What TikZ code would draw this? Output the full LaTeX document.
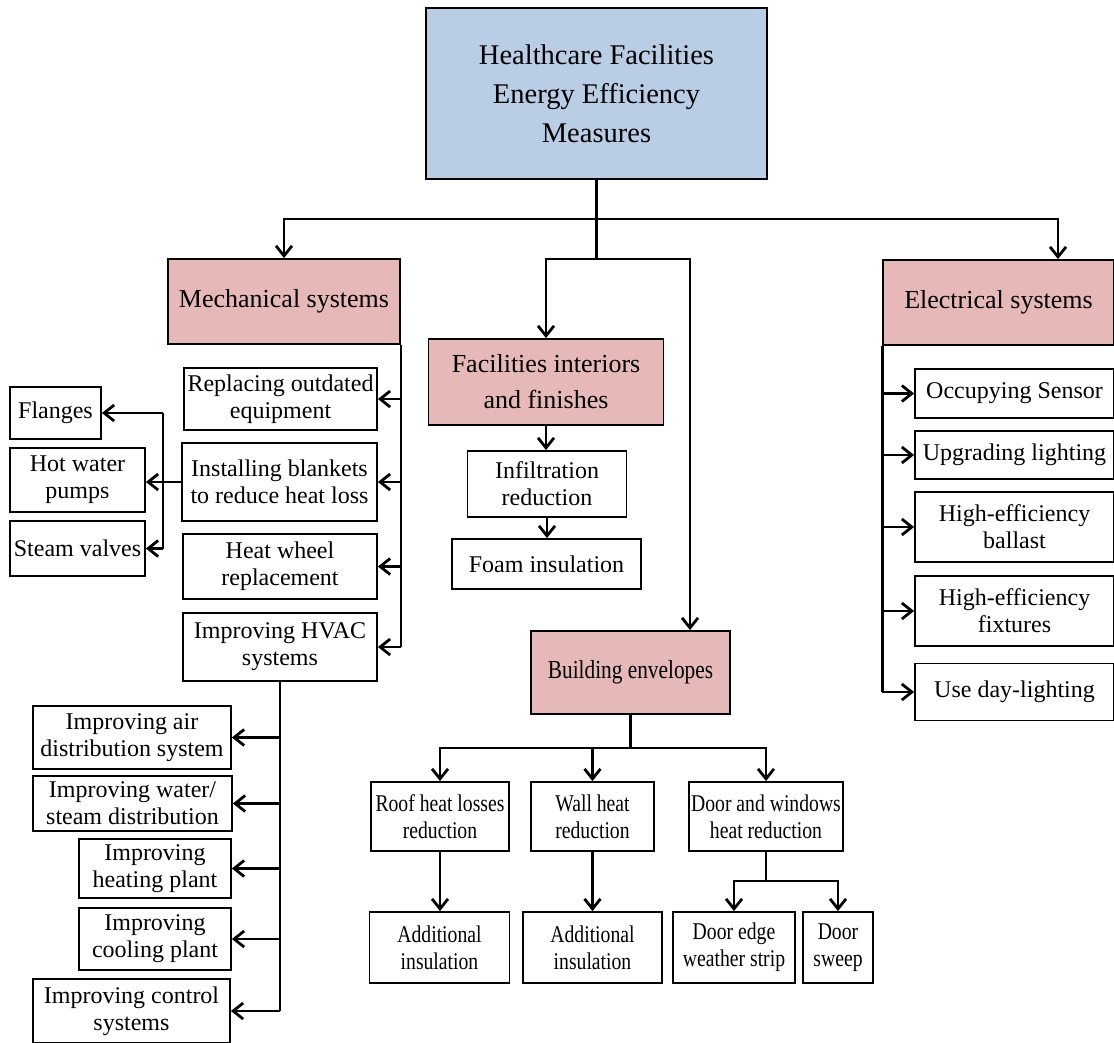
\documentclass[tikz,border=0pt]{standalone}
\usepackage{fontspec}
\newfontfamily\serfont[FakeStretch=1.0]{Liberation Serif}
\newfontfamily\condfont[FakeStretch=0.82]{Liberation Serif}
\usetikzlibrary{arrows.meta}
\definecolor{topblue}{HTML}{B9CDE5}
\definecolor{catpink}{HTML}{E6B8B7}
\begin{document}
\begin{tikzpicture}[x=1pt,y=-1pt,
  box/.style={draw=black, line width=1.8pt, align=center, inner sep=0pt, font=\serfont\fontsize{24}{27}\selectfont},
  cat/.style={box, fill=catpink, font=\serfont\fontsize{26}{36}\selectfont},
  condbox/.style={box, font=\condfont\fontsize{24}{27}\selectfont},
  condcat/.style={box, fill=catpink, font=\condfont\fontsize{26}{36}\selectfont},
  conn/.style={line width=2.8pt},
  arr/.style={line width=2.8pt, -{Straight Barb[length=10pt,width=16pt]}},
]
\useasboundingbox (0,0) rectangle (1114,1042);
\fill[white] (0,0) rectangle (1114,1042);

% top
\node[box, fill=topblue, minimum width=341pt, minimum height=171pt, font=\serfont\fontsize{28.5}{39}\selectfont] (top) at (596.5,93.5) {Healthcare Facilities\\Energy Efficiency\\Measures};

% categories
\node[cat, minimum width=232pt, minimum height=85pt] (mech) at (284,301.5) {Mechanical systems};
\node[cat, minimum width=231pt, minimum height=85pt] (elec) at (998.5,302.5) {Electrical systems};
\node[cat, minimum width=235pt, minimum height=86pt] (fac) at (546,382) {Facilities interiors\\and finishes};
\node[condcat, minimum width=199pt, minimum height=83pt] (bldg) at (630.5,672.5) {Building envelopes};

% facilities
\node[box, minimum width=159pt, minimum height=66pt] (infil) at (547,484) {Infiltration\\reduction};
\node[box, minimum width=189pt, minimum height=50pt] (foam) at (546.5,564) {Foam insulation};

% mechanical
\node[box, minimum width=193pt, minimum height=62pt] (repl) at (280.5,399) {Replacing outdated\\equipment};
\node[box, minimum width=195pt, minimum height=78pt] (inst) at (279.5,482) {Installing blankets\\to reduce heat loss};
\node[box, minimum width=194pt, minimum height=65pt] (heat) at (280,566.5) {Heat wheel\\replacement};
\node[box, minimum width=194pt, minimum height=68pt] (hvac) at (280,647) {Improving HVAC\\systems};

\node[box, minimum width=91pt, minimum height=52pt] (flanges) at (55.5,413) {Flanges};
\node[box, minimum width=135pt, minimum height=64pt] (hotw) at (77.5,480) {Hot water\\pumps};
\node[box, minimum width=135pt, minimum height=55pt] (steam) at (77.5,548.5) {Steam valves};

\node[box, minimum width=198pt, minimum height=63pt] (air) at (132,737.5) {Improving air\\distribution system};
\node[box, minimum width=199pt, minimum height=55pt] (water) at (132.5,803.5) {Improving water/\\steam distribution};
\node[box, minimum width=152pt, minimum height=59pt] (heating) at (155,868.5) {Improving\\heating plant};
\node[box, minimum width=152pt, minimum height=62pt] (cooling) at (155,939) {Improving\\cooling plant};
\node[box, minimum width=197pt, minimum height=64pt] (control) at (131.5,1011) {Improving control\\systems};

% electrical
\node[box, minimum width=199pt, minimum height=49pt] (occ) at (1014.5,393.5) {Occupying Sensor};
\node[box, minimum width=199pt, minimum height=48pt] (upg) at (1014.5,455) {Upgrading lighting};
\node[box, minimum width=199pt, minimum height=70pt] (heb) at (1014.5,527) {High-efficiency\\ballast};
\node[box, minimum width=199pt, minimum height=70pt] (hef) at (1014.5,611) {High-efficiency\\fixtures};
\node[box, minimum width=199pt, minimum height=57pt] (day) at (1014.5,692) {Use day-lighting};

% building envelopes
\node[condbox, minimum width=138pt, minimum height=69pt] (roof) at (440,816.5) {Roof heat losses\\reduction};
\node[condbox, minimum width=123pt, minimum height=69pt] (wall) at (592.5,816.5) {Wall heat\\reduction};
\node[condbox, minimum width=154pt, minimum height=69pt] (door) at (766,816.5) {Door and windows\\heat reduction};
\node[condbox, minimum width=140pt, minimum height=71pt] (add1) at (439.5,947.5) {Additional\\insulation};
\node[condbox, minimum width=139pt, minimum height=71pt] (add2) at (592.5,947.5) {Additional\\insulation};
\node[condbox, minimum width=122pt, minimum height=71pt] (dedge) at (734,947.5) {Door edge\\weather strip};
\node[condbox, minimum width=70pt, minimum height=71pt] (dsweep) at (838,947.5) {Door\\sweep};

% connectors: top level
\coordinate (j1) at (596.5,219);
\coordinate (j2) at (596.5,259);
\draw[conn] (top.south) -- (j1);
\draw[arr] (j1) -| (mech.north);
\draw[arr] (j1) -| ([xshift=59.5pt]elec.north);
\draw[conn] (j1) -- (j2);
\draw[arr] (j2) -| (fac.north);
\draw[arr] (j2) -| ([xshift=59.5pt]bldg.north);

% facilities
\draw[arr] (fac.south) -- (fac.south |- infil.north);
\draw[arr] (infil.south) -- (infil.south |- foam.north);

% mechanical
\draw[conn] (mech.south east) -- (mech.south east |- hvac.east);
\draw[arr] (mech.south east |- repl.east) -- (repl.east);
\draw[arr] (mech.south east |- inst.east) -- (inst.east);
\draw[arr] (mech.south east |- heat.east) -- (heat.east);
\draw[arr] (mech.south east |- hvac.east) -- (hvac.east);

\coordinate (ix) at (163,482);
\draw[conn] (inst.west) -- (ix);
\draw[conn] (ix |- flanges.east) -- (ix |- steam.east);
\draw[arr] (ix |- flanges.east) -- (flanges.east);
\draw[arr] (ix) -- (hotw.east |- ix);
\draw[arr] (ix |- steam.east) -- (steam.east);

\draw[conn] (hvac.south) -- (hvac.south |- control.east);
\draw[arr] (hvac.south |- air.east) -- (air.east);
\draw[arr] (hvac.south |- water.east) -- (water.east);
\draw[arr] (hvac.south |- heating.east) -- (heating.east);
\draw[arr] (hvac.south |- cooling.east) -- (cooling.east);
\draw[arr] (hvac.south |- control.east) -- (control.east);

% electrical
\draw[conn] (elec.south west) -- (elec.south west |- day.west);
\draw[arr] (elec.south west |- occ.west) -- (occ.west);
\draw[arr] (elec.south west |- upg.west) -- (upg.west);
\draw[arr] (elec.south west |- heb.west) -- (heb.west);
\draw[arr] (elec.south west |- hef.west) -- (hef.west);
\draw[arr] (elec.south west |- day.west) -- (day.west);

% building envelopes
\coordinate (bj) at (630.5,748);
\draw[conn] (bldg.south) -- (bj);
\draw[arr] (bj) -| (roof.north);
\draw[arr] (bj) -| (wall.north);
\draw[arr] (bj) -| (door.north);
\draw[arr] (roof.south) -- (roof.south |- add1.north);
\draw[arr] (wall.south) -- (add2.north);
\coordinate (dj) at (766,881);
\draw[conn] (door.south) -- (dj);
\draw[arr] (dj) -| (dedge.north);
\draw[arr] (dj) -| (dsweep.north);
\end{tikzpicture}
\end{document}
